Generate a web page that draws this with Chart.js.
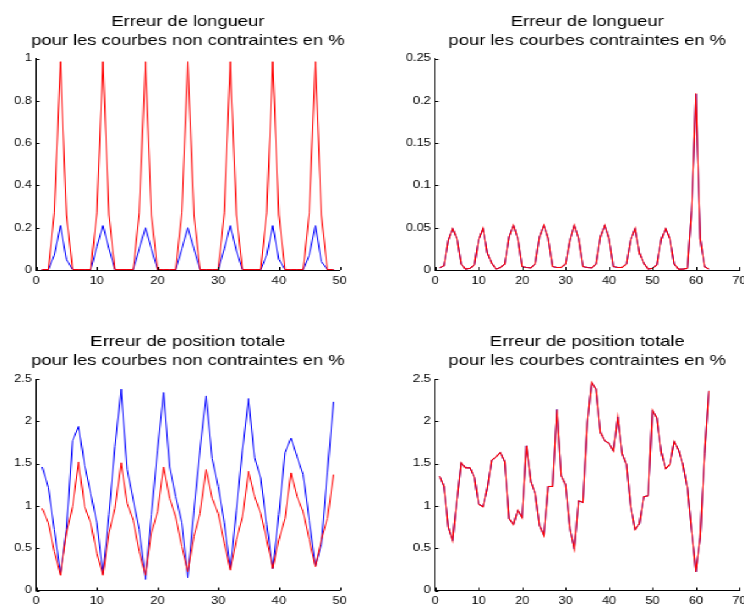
<!DOCTYPE html>
<html><head><meta charset="utf-8">
<script src="https://cdn.jsdelivr.net/npm/chart.js@4/dist/chart.umd.min.js"></script>
<style>
html,body{margin:0;padding:0;background:#fff;overflow:hidden;width:744px;height:610px;}
#wrap{position:absolute;left:0;top:0;width:610px;height:610px;transform:scaleX(1.21967);transform-origin:0 0;}
canvas{position:absolute;}
</style></head><body><div id="wrap">
<canvas id="c1"></canvas><canvas id="c2"></canvas><canvas id="c3"></canvas><canvas id="c4"></canvas>
</div>
<script>
// ---- titles ----
const titleLenUnc = ['Erreur de longueur', 'pour les courbes non contraintes en %'];
const titleLenCon = ['Erreur de longueur', 'pour les courbes contraintes en %'];
const titlePosUnc = ['Erreur de position totale', 'pour les courbes non contraintes en %'];
const titlePosCon = ['Erreur de position totale', 'pour les courbes contraintes en %'];

// ---- tick values / labels ----
const xTicks50 = [0, 10, 20, 30, 40, 50];
const xLabels50 = ['0', '10', '20', '30', '40', '50'];
const xTicks70 = [0, 10, 20, 30, 40, 50, 60, 70];
const xLabels70 = ['0', '10', '20', '30', '40', '50', '60', '70'];
const yTicksLenUnc = [0, 0.2, 0.4, 0.6, 0.8, 1];
const yLabelsLenUnc = ['0', '0.2', '0.4', '0.6', '0.8', '1'];
const yTicksLenCon = [0, 0.05, 0.1, 0.15, 0.2, 0.25];
const yLabelsLenCon = ['0', '0.05', '0.1', '0.15', '0.2', '0.25'];
const yTicksPos = [0, 0.5, 1, 1.5, 2, 2.5];
const yLabelsPos = ['0', '0.5', '1', '1.5', '2', '2.5'];

// ---- series (x = 1..N) ----
const lenUncBlue = [0.001,0.001,0.07,0.21,0.05,0.002,0.001,0.001,0.001,0.11,0.21,0.1,0.002,0.001,0.001,0.001,0.1,0.2,0.1,0.002,0.001,0.001,0.001,0.1,0.2,0.1,0.002,0.001,0.001,0.001,0.1,0.21,0.09,0.002,0.001,0.001,0.001,0.07,0.21,0.05,0.002,0.001,0.001,0.001,0.07,0.21,0.04,0.002,0.001];
const lenUncRed = [0.002,0.002,0.27,0.985,0.26,0.002,0.002,0.002,0.002,0.27,0.985,0.26,0.002,0.002,0.002,0.002,0.27,0.985,0.26,0.002,0.002,0.002,0.002,0.27,0.985,0.26,0.002,0.002,0.002,0.002,0.27,0.985,0.26,0.002,0.002,0.002,0.002,0.27,0.985,0.26,0.002,0.002,0.002,0.002,0.27,0.985,0.26,0.002,0.002];

const lenConRed = [0.0025,0.005,0.035,0.049,0.037,0.007,0.001,0.002,0.006,0.036,0.049,0.02,0.008,0.001,0.003,0.007,0.039,0.053,0.037,0.004,0.003,0.0025,0.007,0.039,0.053,0.037,0.004,0.003,0.003,0.007,0.035,0.053,0.037,0.004,0.003,0.0025,0.007,0.039,0.053,0.037,0.004,0.003,0.003,0.007,0.036,0.049,0.02,0.008,0.001,0.002,0.006,0.036,0.049,0.037,0.007,0.001,0.001,0.002,0.07,0.209,0.037,0.004,0.001];
const lenConBlue = [0.0025,0.005,0.035,0.049,0.037,0.007,0.001,0.002,0.006,0.036,0.049,0.02,0.008,0.001,0.003,0.007,0.039,0.053,0.037,0.004,0.003,0.0025,0.007,0.039,0.053,0.037,0.004,0.003,0.003,0.007,0.035,0.053,0.037,0.004,0.003,0.0025,0.007,0.039,0.053,0.037,0.004,0.003,0.003,0.007,0.036,0.049,0.02,0.008,0.001,0.002,0.006,0.036,0.049,0.037,0.007,0.001,0.001,0.002,0.07,0.208,0.037,0.004,0.001];

const posUncBlue = [1.46,1.22,0.72,0.2,0.72,1.77,1.94,1.48,1.15,0.8,0.2,0.9,1.7,2.38,1.43,1.07,0.72,0.13,0.9,1.66,2.34,1.46,1.11,0.8,0.15,0.95,1.66,2.3,1.56,1.23,0.8,0.26,0.95,1.66,2.27,1.57,1.33,0.78,0.26,0.9,1.63,1.8,1.58,1.37,0.83,0.29,0.54,1.4,2.23];
const posUncRed = [0.97,0.8,0.46,0.18,0.68,0.99,1.52,0.99,0.8,0.44,0.18,0.68,0.97,1.51,1.03,0.83,0.46,0.18,0.68,0.93,1.46,1.09,0.87,0.52,0.22,0.64,0.91,1.43,1.09,0.91,0.56,0.24,0.6,0.87,1.41,1.11,0.91,0.6,0.26,0.6,0.85,1.39,1.11,0.93,0.6,0.28,0.6,0.85,1.37];

const posConRed = [1.35,1.23,0.75,0.59,1.07,1.51,1.45,1.45,1.34,1.02,0.99,1.21,1.54,1.58,1.63,1.52,0.85,0.78,0.95,0.86,1.71,1.29,1.15,0.77,0.65,1.23,1.23,2.14,1.36,1.25,0.73,0.49,1.06,1.04,1.98,2.46,2.38,1.87,1.77,1.74,1.65,2.05,1.62,1.49,0.99,0.72,0.79,1.11,1.12,2.13,2.04,1.64,1.44,1.49,1.76,1.66,1.49,1.22,0.71,0.22,0.63,1.62,2.36];
const posConBlue = [1.35,1.23,0.75,0.59,1.07,1.51,1.45,1.45,1.34,1.02,0.99,1.21,1.54,1.58,1.63,1.52,0.85,0.78,0.95,0.86,1.71,1.29,1.15,0.77,0.65,1.23,1.23,2.14,1.36,1.25,0.73,0.49,1.06,1.04,1.98,2.46,2.38,1.87,1.77,1.74,1.65,2.05,1.62,1.49,0.99,0.72,0.79,1.11,1.12,2.13,2.04,1.64,1.44,1.49,1.76,1.66,1.49,1.22,0.71,0.22,0.63,1.62,2.36];

const FONT = "'Liberation Sans', Arial, Helvetica, sans-serif";
const BLUE = '#0000ff', RED = '#ff0000';

const inwardTicks = {
  id: 'inwardTicks',
  afterDraw(chart) {
    const {ctx, chartArea: a, scales: {x, y}} = chart;
    ctx.save();
    ctx.strokeStyle = '#000';
    ctx.lineWidth = 1;
    ctx.beginPath();
    x.ticks.forEach(t => {
      const px = Math.round(x.getPixelForValue(t.value)) + 0.5;
      ctx.moveTo(px, a.bottom); ctx.lineTo(px, a.bottom - 3);
    });
    y.ticks.forEach(t => {
      const py = Math.round(y.getPixelForValue(t.value)) + 0.5;
      ctx.moveTo(a.left, py); ctx.lineTo(a.left + 2.7, py);
    });
    ctx.stroke();
    ctx.restore();
  }
};

function makeChart(id, cfg) {
  const cv = document.getElementById(id);
  const aL = cfg.area[0] - cfg.cx, aT = cfg.area[1] - cfg.cy, aR = cfg.area[2] - cfg.cx, aB = cfg.area[3] - cfg.cy;
  const yW = cfg.yW;
  const pad = aL - yW;          // layout padding on both sides
  const cw = aR + aL;           // symmetric: dummy right axis of same width -> title centred over plot
  const xH = cfg.ch - aB;
  cv.width = cw; cv.height = cfg.ch;
  cv.style.left = cfg.cx + 'px'; cv.style.top = cfg.cy + 'px';
  cv.style.width = cw + 'px'; cv.style.height = cfg.ch + 'px';
  const tSize = 15, tLH = 1.3, tPadTop = 12;
  const tPadBottom = aT - tPadTop - 2 * tSize * tLH;
  const tickFont = {family: FONT, size: 10.5};
  new Chart(cv, {
    type: 'line',
    data: {
      // first dataset is drawn on top (red over blue)
      datasets: cfg.series.map(s => ({
        data: s.values.map((v, i) => ({x: i + 1, y: v})),
        borderColor: s.color, borderWidth: s.width, pointRadius: 0, fill: false, tension: 0
      }))
    },
    options: {
      responsive: false, animation: false, devicePixelRatio: 1,
      layout: {padding: {left: pad, top: 0, right: pad, bottom: 0}},
      plugins: {
        legend: {display: false}, tooltip: {enabled: false},
        title: {display: true, text: cfg.title, color: '#000',
          font: {family: FONT, size: tSize, weight: 'normal', lineHeight: tLH},
          padding: {top: tPadTop, bottom: tPadBottom}}
      },
      scales: {
        x: {
          type: 'linear', min: cfg.xTicks[0], max: cfg.xTicks[cfg.xTicks.length - 1],
          grid: {display: false, drawTicks: false},
          border: {display: true, color: '#000', width: 1},
          ticks: {color: '#000', font: tickFont, padding: 4.5, autoSkip: false, maxRotation: 0,
            callback: (v, i) => cfg.xLabels[i]},
          afterBuildTicks: s => { s.ticks = cfg.xTicks.map(v => ({value: v})); },
          afterFit: s => { s.height = xH; s.paddingLeft = 0; s.paddingRight = 0; }
        },
        y: {
          type: 'linear', position: 'left', min: cfg.yTicks[0], max: cfg.yTicks[cfg.yTicks.length - 1],
          grid: {display: false, drawTicks: false},
          border: {display: true, color: '#000', width: 1},
          ticks: {color: '#000', font: tickFont, padding: 3.5, autoSkip: false,
            callback: (v, i) => cfg.yLabels[i]},
          afterBuildTicks: s => { s.ticks = cfg.yTicks.map(v => ({value: v})); },
          afterFit: s => { s.width = yW; s.paddingTop = 0; s.paddingBottom = 0; }
        },
        yR: {
          type: 'linear', position: 'right', display: true,
          min: cfg.yTicks[0], max: cfg.yTicks[cfg.yTicks.length - 1],
          grid: {display: false, drawTicks: false},
          border: {display: false},
          ticks: {display: false},
          afterFit: s => { s.width = yW; s.paddingTop = 0; s.paddingBottom = 0; }
        }
      }
    },
    plugins: [inwardTicks]
  });
}

makeChart('c1', {cx: 0, cy: 0, ch: 290, yW: 25, area: [29.5, 58.5, 278.4, 270],
  title: titleLenUnc, xTicks: xTicks50, xLabels: xLabels50, yTicks: yTicksLenUnc, yLabels: yLabelsLenUnc,
  series: [{values: lenUncRed, color: RED, width: 1}, {values: lenUncBlue, color: BLUE, width: 1}]});
makeChart('c2', {cx: 320, cy: 0, ch: 290, yW: 32, area: [356.7, 58.5, 605.9, 270],
  title: titleLenCon, xTicks: xTicks70, xLabels: xLabels70, yTicks: yTicksLenCon, yLabels: yLabelsLenCon,
  series: [{values: lenConRed, color: RED, width: 1.1}, {values: lenConBlue, color: BLUE, width: 1}]});
makeChart('c3', {cx: 0, cy: 320, ch: 290, yW: 25, area: [29.5, 379, 278.4, 590.5],
  title: titlePosUnc, xTicks: xTicks50, xLabels: xLabels50, yTicks: yTicksPos, yLabels: yLabelsPos,
  series: [{values: posUncRed, color: RED, width: 1}, {values: posUncBlue, color: BLUE, width: 1}]});
makeChart('c4', {cx: 320, cy: 320, ch: 290, yW: 32, area: [356.7, 379, 605.9, 590.5],
  title: titlePosCon, xTicks: xTicks70, xLabels: xLabels70, yTicks: yTicksPos, yLabels: yLabelsPos,
  series: [{values: posConRed, color: RED, width: 1.1}, {values: posConBlue, color: BLUE, width: 1}]});
</script>
</body></html>
